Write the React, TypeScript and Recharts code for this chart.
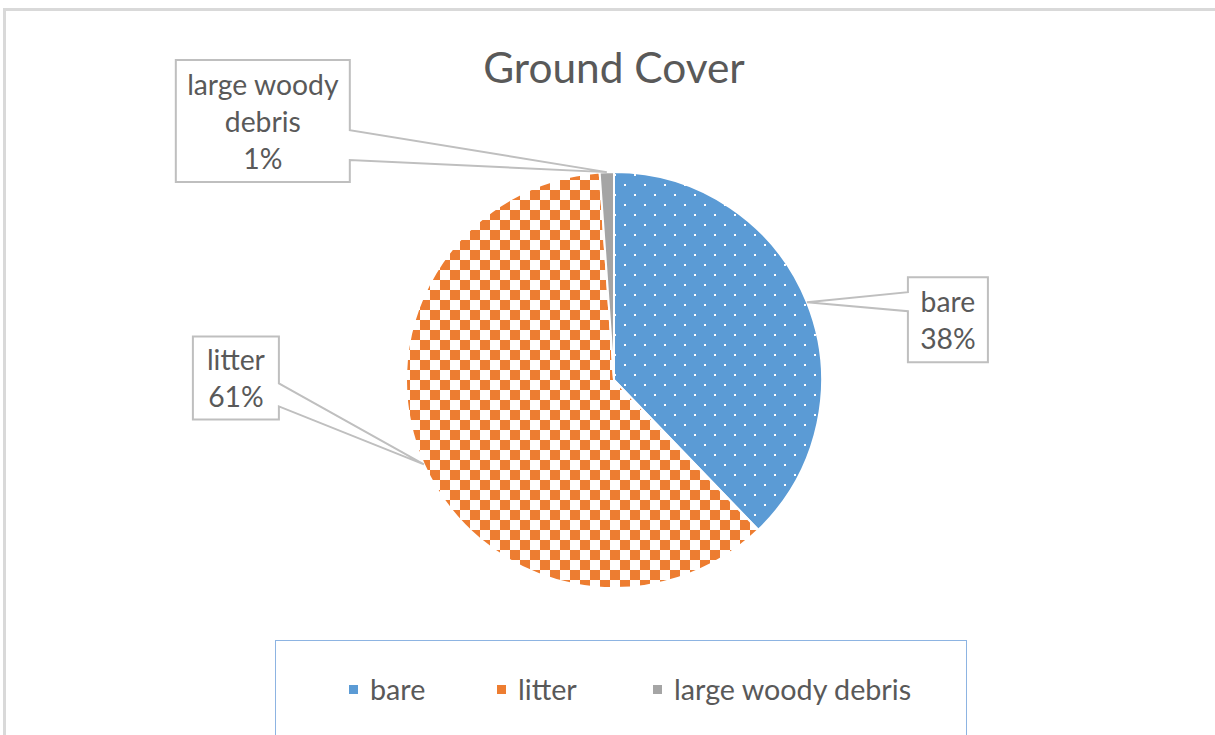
import React from 'react';
import { PieChart, Pie, Cell } from 'recharts';

const categories = ['bare', 'litter', 'large woody debris'];
const values = [37.8, 61.1, 1.1];
const labelLines = [['bare'], ['litter'], ['large woody', 'debris']];
const title = 'Ground Cover';

const baseColors = ['#5B9BD5', '#ED7D31', '#A5A5A5'];
const fills = ['url(#dotsBlue)', 'url(#checkOrange)', '#A5A5A5'];

// callout box layout relative to the slice anchor point (dx, dy of box top-left), size, wedge side & span
const labelBoxes = [
  { dx: 101, dy: -25, w: 80, h: 85, side: 'left', w0: 15, w1: 34 },
  { dx: -231, dy: -128, w: 86, h: 83, side: 'right', w0: 47, w1: 70 },
  { dx: -431, dy: -112, w: 174, h: 122, side: 'right', w0: 70, w1: 100 },
];

const data = categories.map((name, i) => ({ name, value: values[i] }));

const FONT = 'Lato, "Open Sans", sans-serif';
const TEXT = '#595959';
const RAD = Math.PI / 180;

const renderLabel = (props: any) => {
  const { cx, cy, midAngle, outerRadius, index, percent } = props;
  const ax = cx + outerRadius * Math.cos(-midAngle * RAD);
  const ay = cy + outerRadius * Math.sin(-midAngle * RAD);
  const b = labelBoxes[index];
  const x0 = ax + b.dx;
  const y0 = ay + b.dy;
  const x1 = x0 + b.w;
  const y1 = y0 + b.h;
  let d = '';
  if (b.side === 'left') {
    d = `M${x0},${y0} L${x1},${y0} L${x1},${y1} L${x0},${y1} L${x0},${y0 + b.w1} L${ax},${ay} L${x0},${y0 + b.w0} Z`;
  } else {
    d = `M${x0},${y0} L${x1},${y0} L${x1},${y0 + b.w0} L${ax},${ay} L${x1},${y0 + b.w1} L${x1},${y1} L${x0},${y1} Z`;
  }
  const lines = [...labelLines[index], `${Math.round(percent * 100)}%`];
  const lh = 37;
  const midY = (y0 + y1) / 2;
  const startY = midY - ((lines.length - 1) * lh) / 2;
  return (
    <g>
      <path d={d} fill="#fff" stroke="#BFBFBF" strokeWidth={2} />
      {lines.map((t, k) => (
        <text
          key={k}
          x={(x0 + x1) / 2}
          y={startY + k * lh}
          textAnchor="middle"
          dominantBaseline="central"
          fill={TEXT}
          fontSize={28.3}
          fontFamily={FONT}
        >
          {t}
        </text>
      ))}
    </g>
  );
};

export default function App() {
  return (
    <div style={{ position: 'absolute', left: 0, top: 0, width: 1215, height: 735, background: '#fff', overflow: 'hidden' }}>
      <svg width={0} height={0} style={{ position: 'absolute' }}>
        <defs>
          <pattern id="dotsBlue" patternUnits="userSpaceOnUse" width={20} height={20}>
            <rect x={0} y={0} width={20} height={20} fill="#5B9BD5" />
            <rect x={4} y={4} width={2} height={2} fill="#fff" />
            <rect x={14} y={14} width={2} height={2} fill="#fff" />
          </pattern>
          <pattern id="checkOrange" patternUnits="userSpaceOnUse" width={20} height={20}>
            <rect x={0} y={0} width={20} height={20} fill="#fff" />
            <rect x={0} y={0} width={10} height={10} fill="#ED7D31" />
            <rect x={10} y={10} width={10} height={10} fill="#ED7D31" />
          </pattern>
        </defs>
      </svg>
      <div
        style={{
          position: 'absolute',
          left: 3,
          top: 8,
          width: 1300,
          height: 800,
          borderTop: '3px solid #D9D9D9',
          borderLeft: '3px solid #D9D9D9',
        }}
      />
      <div style={{ position: 'absolute', left: 0, top: 0 }}>
        <PieChart width={1215} height={735} margin={{ top: 0, right: 0, bottom: 0, left: 0 }}>
          <text
            x={614}
            y={66}
            textAnchor="middle"
            dominantBaseline="central"
            fill={TEXT}
            fontSize={42.4}
            fontFamily={FONT}
          >
            {title}
          </text>
          <Pie
            data={data}
            dataKey="value"
            nameKey="name"
            cx={614}
            cy={380}
            outerRadius={208}
            startAngle={90}
            endAngle={-270}
            stroke="#fff"
            strokeWidth={2}
            labelLine={false}
            label={renderLabel}
            isAnimationActive={false}
          >
            {data.map((d, i) => (
              <Cell key={d.name} fill={fills[i]} />
            ))}
          </Pie>
        </PieChart>
      </div>
      <div
        style={{
          position: 'absolute',
          left: 275,
          top: 640,
          width: 692,
          height: 120,
          border: '1px solid #8DB4E2',
          boxSizing: 'border-box',
        }}
      />
      {categories.map((c, i) => {
        const lefts = [349, 497, 653];
        return (
          <div
            key={c}
            style={{
              position: 'absolute',
              left: lefts[i],
              top: 672,
              height: 34,
              display: 'flex',
              alignItems: 'center',
              fontFamily: FONT,
              fontSize: 28.7,
              color: TEXT,
              whiteSpace: 'nowrap',
            }}
          >
            <span style={{ display: 'inline-block', width: 9, height: 9, background: baseColors[i], marginRight: 12 }} />
            {c}
          </div>
        );
      })}
    </div>
  );
}
